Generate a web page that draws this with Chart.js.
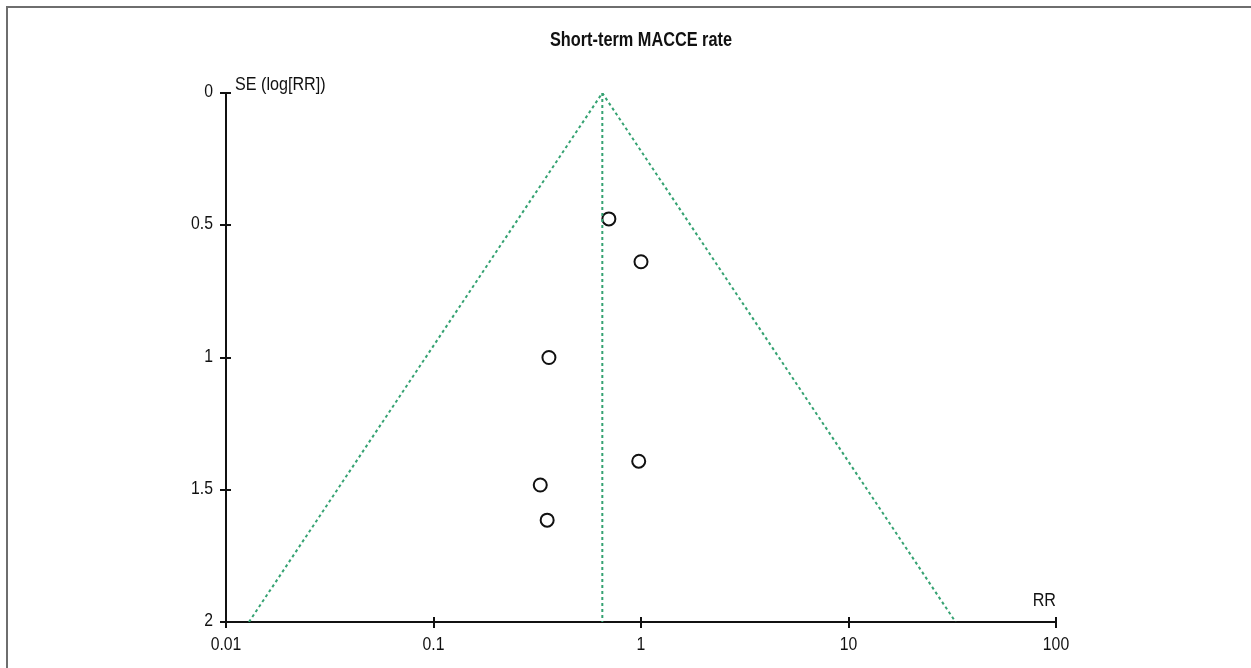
<!DOCTYPE html>
<html lang="en">
<head>
  <meta charset="UTF-8" />
  <title>Short-term MACCE rate funnel plot</title>
  <script src="https://cdn.jsdelivr.net/npm/chart.js"></script>
  <style>
    html, body { margin: 0; padding: 0; background: #fff; }
    #wrap { position: relative; width: 1251px; height: 668px; overflow: hidden; }
    #frame { position: absolute; left: 6px; top: 6px; width: 1300px; height: 700px;
             border-top: 2px solid #6e6e6e; border-left: 2px solid #6e6e6e; }
    canvas { position: absolute; left: 0; top: 0; }
  </style>
</head>
<body>
<div id="wrap">
  <div id="frame"></div>
  <canvas id="funnel" width="1251" height="668"></canvas>
</div>

<script>
  // study estimates (RR and standard error of log RR)
  const studyRR = [0.70, 1.00, 0.36, 0.975, 0.327, 0.353];
  const studySE = [0.476, 0.638, 1.0, 1.392, 1.482, 1.615];

  // funnel outline
  const funnelRR = [0.0129, 0.651, 32.8];
  const funnelSE = [2, 0, 2];
  const pooledRR = [0.651, 0.651];
  const pooledSE = [0, 2];

  const xTicks = [0.01, 0.1, 1, 10, 100];
  const yTicks = [0, 0.5, 1, 1.5, 2];

  const FONT = '"Liberation Sans", Arial, sans-serif';
  const green = '#35a272';

  const toXY = (xs, ys) => xs.map((x, i) => ({ x: x, y: ys[i] }));

  // Arial Narrow look: squeeze text horizontally around its anchor
  function narrowText(c, text, x, y, align, squeeze) {
    c.save();
    c.translate(x, y);
    c.scale(squeeze, 1);
    c.textAlign = align;
    c.fillText(text, 0, 0);
    c.restore();
  }

  const decorations = {
    id: 'decorations',
    afterDraw(chart) {
      const c = chart.ctx;
      const xs = chart.scales.x, ys = chart.scales.y;
      const a = chart.chartArea;
      c.save();
      c.strokeStyle = '#111';
      c.lineWidth = 2;
      c.beginPath();
      xTicks.forEach(v => {
        const px = Math.round(xs.getPixelForValue(v));
        c.moveTo(px, a.bottom - 5);
        c.lineTo(px, a.bottom + 6);
      });
      yTicks.forEach(v => {
        const py = Math.round(ys.getPixelForValue(v));
        c.moveTo(a.left - 6, py);
        c.lineTo(a.left + 5, py);
      });
      c.stroke();

      c.fillStyle = '#111';
      c.textBaseline = 'middle';
      c.font = '19px ' + FONT;
      xTicks.forEach(v => {
        narrowText(c, String(v), xs.getPixelForValue(v), a.bottom + 23, 'center', 0.83);
      });
      yTicks.forEach(v => {
        narrowText(c, String(v), a.left - 13, ys.getPixelForValue(v) - 1, 'right', 0.83);
      });
      narrowText(c, 'SE (log[RR])', a.left + 9, 85, 'left', 0.85);
      narrowText(c, 'RR', a.right, 601, 'right', 0.85);

      c.font = 'bold 20px ' + FONT;
      narrowText(c, 'Short-term MACCE rate', (a.left + a.right) / 2, 40, 'center', 0.815);
      c.restore();
    }
  };

  new Chart(document.getElementById('funnel'), {
    type: 'scatter',
    data: {
      datasets: [
        {
          label: 'Funnel',
          type: 'line',
          data: toXY(funnelRR, funnelSE),
          borderColor: green,
          borderWidth: 2,
          borderDash: [3, 3],
          pointRadius: 0,
          fill: false
        },
        {
          label: 'Pooled',
          type: 'line',
          data: toXY(pooledRR, pooledSE),
          borderColor: green,
          borderWidth: 2,
          borderDash: [3, 3],
          pointRadius: 0,
          fill: false
        },
        {
          label: 'Studies',
          data: toXY(studyRR, studySE),
          pointRadius: 6.5,
          pointBorderWidth: 2,
          pointBorderColor: '#111',
          pointBackgroundColor: 'rgba(255,255,255,0)'
        }
      ]
    },
    options: {
      responsive: false,
      animation: false,
      layout: { padding: { left: 0, right: 195, top: 93, bottom: 0 } },
      plugins: { legend: { display: false }, title: { display: false }, tooltip: { enabled: false } },
      scales: {
        x: {
          type: 'logarithmic',
          min: 0.01,
          max: 100,
          grid: { display: false },
          border: { display: true, color: '#111', width: 2 },
          afterBuildTicks: s => { s.ticks = xTicks.map(v => ({ value: v })); },
          afterFit: s => { s.height = 46; },
          ticks: { display: false }
        },
        y: {
          reverse: true,
          min: 0,
          max: 2,
          grid: { display: false },
          border: { display: true, color: '#111', width: 2 },
          afterBuildTicks: s => { s.ticks = yTicks.map(v => ({ value: v })); },
          afterFit: s => { s.width = 226; },
          ticks: { display: false }
        }
      }
    },
    plugins: [decorations]
  });
</script>
</body>
</html>
